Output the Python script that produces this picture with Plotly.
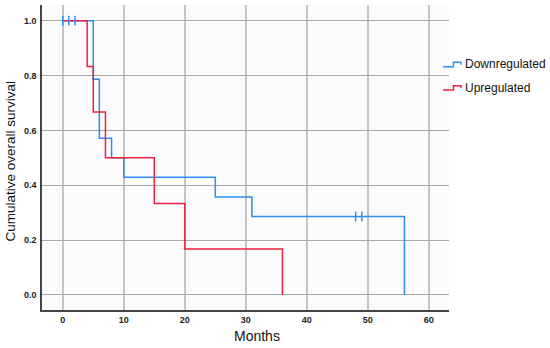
import plotly.graph_objects as go

# Data
down_times = [0, 5, 6, 8, 10, 25, 31, 56]
down_surv = [1.0, 0.786, 0.571, 0.5, 0.429, 0.357, 0.286, 0.0]
down_cens_t = [0, 1, 2, 48, 49]
down_cens_s = [1.0, 1.0, 1.0, 0.286, 0.286]

up_times = [0, 4, 5, 7, 15, 20, 36]
up_surv = [1.0, 0.833, 0.667, 0.5, 0.333, 0.167, 0.0]

x_ticks = [0, 10, 20, 30, 40, 50, 60]
y_ticks = [0.0, 0.2, 0.4, 0.6, 0.8, 1.0]

BLUE = "#2b8ef0"
RED = "#f0203f"
FONT = "Liberation Sans, Arial, sans-serif"

fig = go.Figure()
fig.add_trace(go.Scatter(x=down_times, y=down_surv, mode="lines", line_shape="hv",
                         line=dict(color=BLUE, width=1.5), name="Downregulated", showlegend=False))
fig.add_trace(go.Scatter(x=up_times, y=up_surv, mode="lines", line_shape="hv",
                         line=dict(color=RED, width=1.5), name="Upregulated", showlegend=False))
fig.add_trace(go.Scatter(x=down_cens_t, y=down_cens_s, mode="markers",
                         marker=dict(symbol="line-ns", size=7, line=dict(color=BLUE, width=1.5)),
                         showlegend=False, hoverinfo="skip"))

L, R, T, B = 42, 101, 5, 38
W, H = 550, 348
pw, ph = W - L - R, H - T - B

def px(x):
    return (x - L) / pw

def py(y):
    return (H - B - y) / ph

shapes = []
# legend step icons
for col, ylow, yhigh in [(BLUE, 66.7, 62.3), (RED, 90.0, 85.7)]:
    path = "M {},{} L {},{} L {},{} L {},{} L {},{}".format(
        px(443), py(ylow), px(453.5), py(ylow), px(453.5), py(yhigh),
        px(461), py(yhigh), px(461), py(yhigh + 2.5))
    shapes.append(dict(type="path", xref="paper", yref="paper", path=path,
                       line=dict(color=col, width=1.5)))

annotations = [
    dict(text="Downregulated", xref="paper", yref="paper", x=px(463), y=py(64.3),
         xanchor="left", yanchor="middle", showarrow=False, font=dict(size=12, color="#111", family=FONT)),
    dict(text="Upregulated", xref="paper", yref="paper", x=px(463), y=py(87.7),
         xanchor="left", yanchor="middle", showarrow=False, font=dict(size=12, color="#111", family=FONT)),
    dict(text="Months", xref="paper", yref="paper", x=px(257), y=py(336),
         xanchor="center", yanchor="middle", showarrow=False, font=dict(size=14, color="#111", family=FONT)),
    dict(text="Cumulative overall survival", xref="paper", yref="paper", x=px(9.5), y=py(161),
         xanchor="center", yanchor="middle", textangle=-90, showarrow=False,
         font=dict(size=13.5, color="#111", family=FONT)),
]

tickfont = dict(size=9, color="#222", family="Liberation Sans, Arial", weight="bold")

fig.update_layout(
    width=W, height=H, margin=dict(l=L, r=R, t=T, b=B, autoexpand=False),
    paper_bgcolor="white", plot_bgcolor="#fbfbfb",
    font=dict(family=FONT),
    shapes=shapes, annotations=annotations,
    xaxis=dict(range=[-3.4, 63.3], tickvals=x_ticks, showgrid=True, gridcolor="#c4c4c4", gridwidth=1.5,
               zeroline=False, showline=True, linecolor="#444", linewidth=1.5, automargin=False,
               tickfont=tickfont, ticks="", ticklabelstandoff=0),
    yaxis=dict(range=[-0.055, 1.057], tickvals=y_ticks, tickformat=".1f", showgrid=True,
               gridcolor="#a8a8a8", gridwidth=1.2, zeroline=False, showline=True, linecolor="#444",
               linewidth=1.5, automargin=False, tickfont=tickfont, ticks="", ticklabelstandoff=2),
)

fig.write_html("out.html", post_script="document.body.style.margin='0';",
               config={"displayModeBar": False})
